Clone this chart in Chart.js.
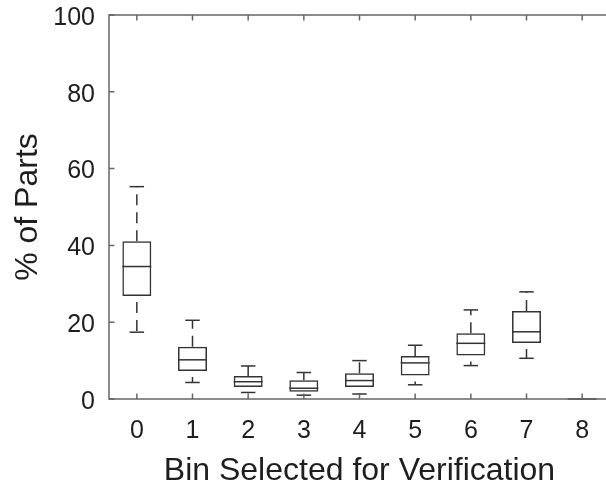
<!DOCTYPE html>
<html>
<head>
<meta charset="utf-8">
<script src="https://cdn.jsdelivr.net/npm/chart.js@4"></script>
<style>
  html, body { margin: 0; padding: 0; overflow: hidden; background: #fff; }
  #wrap { width: 640px; height: 486px; }
</style>
</head>
<body>
<div id="wrap"><canvas id="boxChart" width="640" height="486"></canvas></div>
<script>
// bins on the x axis
const bins = ['0', '1', '2', '3', '4', '5', '6', '7', '8'];

// box plot stats per bin (% of parts)
const whiskerLow  = [17.4, 4.3, 1.7, 1.0, 1.3, 3.7, 8.7, 10.6, 0];
const q1          = [26.8, 7.3, 3.1, 1.9, 3.1, 6.1, 11.3, 14.6, 0];
const median      = [34.5, 10.2, 4.5, 2.8, 4.8, 9.4, 14.5, 17.5, 0];
const q3          = [41.1, 13.6, 6.0, 4.9, 6.7, 11.2, 17.1, 22.9, 0];
const whiskerHigh = [55.3, 20.5, 8.6, 6.9, 10.0, 14.0, 23.2, 27.9, 0];

const yTicks = [0, 20, 40, 60, 80, 100];

const lineColor = '#333333';
const axisColor = '#666666';
const textColor = '#1e1e1e';
const fontFamily = '"Liberation Sans", Arial, Helvetica, sans-serif';

// axes box with inward ticks, like matlab
const axesPlugin = {
    id: 'axesBox',
    afterDraw(chart) {
        let ctx = chart.ctx;
        let area = chart.chartArea;
        let x = chart.scales.x;
        let y = chart.scales.y;
        let tick = 5.5;

        ctx.save();
        ctx.strokeStyle = axisColor;
        ctx.lineWidth = 1.5;
        ctx.beginPath();
        ctx.moveTo(area.right + 2, area.top);
        ctx.lineTo(area.left, area.top);
        ctx.lineTo(area.left, area.bottom);
        ctx.lineTo(area.right + 2, area.bottom);
        ctx.stroke();

        ctx.beginPath();
        for (let i = 0; i < bins.length; i++) {
            let px = x.getPixelForValue(i);
            ctx.moveTo(px, area.bottom);
            ctx.lineTo(px, area.bottom - tick);
            ctx.moveTo(px, area.top);
            ctx.lineTo(px, area.top + tick);
        }
        for (let i = 0; i < yTicks.length; i++) {
            let py = y.getPixelForValue(yTicks[i]);
            ctx.moveTo(area.left, py);
            ctx.lineTo(area.left + tick, py);
        }
        ctx.stroke();
        ctx.restore();
    }
};

// whiskers, caps and medians
const boxPlugin = {
    id: 'boxExtras',
    afterDatasetsDraw(chart) {
        let ctx = chart.ctx;
        let x = chart.scales.x;
        let y = chart.scales.y;
        let bars = chart.getDatasetMeta(0).data;
        let capHalf = (x.width / bins.length) * 0.26 / 2;

        ctx.save();
        ctx.strokeStyle = lineColor;
        ctx.lineWidth = 1.5;

        for (let i = 0; i < bins.length; i++) {
            let cx = x.getPixelForValue(i);
            let half = bars[i].width / 2;

            if (whiskerHigh[i] > q3[i]) {
                // upper whisker
                ctx.setLineDash([11, 7]);
                ctx.lineDashOffset = 0;
                ctx.beginPath();
                ctx.moveTo(cx, y.getPixelForValue(q3[i]));
                ctx.lineTo(cx, y.getPixelForValue(whiskerHigh[i]));
                ctx.stroke();
                ctx.setLineDash([]);
                ctx.beginPath();
                ctx.moveTo(cx - capHalf, y.getPixelForValue(whiskerHigh[i]));
                ctx.lineTo(cx + capHalf, y.getPixelForValue(whiskerHigh[i]));
                ctx.stroke();
            }
            if (whiskerLow[i] < q1[i]) {
                // lower whisker
                ctx.setLineDash([11, 7]);
                ctx.lineDashOffset = 12;
                ctx.beginPath();
                ctx.moveTo(cx, y.getPixelForValue(q1[i]));
                ctx.lineTo(cx, y.getPixelForValue(whiskerLow[i]));
                ctx.stroke();
                ctx.setLineDash([]);
                ctx.beginPath();
                ctx.moveTo(cx - capHalf, y.getPixelForValue(whiskerLow[i]));
                ctx.lineTo(cx + capHalf, y.getPixelForValue(whiskerLow[i]));
                ctx.stroke();
            }

            // median
            ctx.setLineDash([]);
            ctx.beginPath();
            ctx.moveTo(cx - half, y.getPixelForValue(median[i]));
            ctx.lineTo(cx + half, y.getPixelForValue(median[i]));
            ctx.stroke();
        }
        ctx.restore();
    }
};

let boxes = [];
for (let i = 0; i < bins.length; i++) {
    boxes.push([q1[i], q3[i]]);
}

let ctx = document.getElementById('boxChart').getContext('2d');
let chart = new Chart(ctx, {
    type: 'bar',
    data: {
        labels: bins,
        datasets: [{
            data: boxes,
            backgroundColor: 'rgba(0,0,0,0)',
            borderColor: lineColor,
            borderWidth: 1.5,
            borderSkipped: false,
            barPercentage: 0.52,
            categoryPercentage: 1
        }]
    },
    options: {
        responsive: false,
        animation: false,
        devicePixelRatio: 1,
        layout: { padding: { top: 15, right: 30, left: 0, bottom: 0 } },
        plugins: {
            legend: { display: false },
            tooltip: { enabled: false }
        },
        scales: {
            x: {
                grid: { display: false, drawTicks: false },
                border: { display: false },
                ticks: {
                    color: textColor,
                    font: { family: fontFamily, size: 25 },
                    padding: 17,
                    maxRotation: 0
                },
                title: {
                    display: true,
                    text: 'Bin Selected for Verification',
                    color: textColor,
                    font: { family: fontFamily, size: 32 },
                    padding: { top: 0, bottom: -4 }
                },
                afterFit(scale) { scale.height = 87; }
            },
            y: {
                min: 0,
                max: 100,
                grid: { display: false, drawTicks: true, tickLength: 14 },
                border: { display: false },
                ticks: {
                    stepSize: 20,
                    color: textColor,
                    font: { family: fontFamily, size: 25, lineHeight: 1 },
                    padding: 0,
                    labelOffset: 3
                },
                title: {
                    display: true,
                    text: '% of Parts',
                    color: textColor,
                    font: { family: fontFamily, size: 32 },
                    padding: { top: 9, bottom: 0 }
                },
                afterFit(scale) { scale.width = 109; }
            }
        }
    },
    plugins: [axesPlugin, boxPlugin]
});
</script>
</body>
</html>
